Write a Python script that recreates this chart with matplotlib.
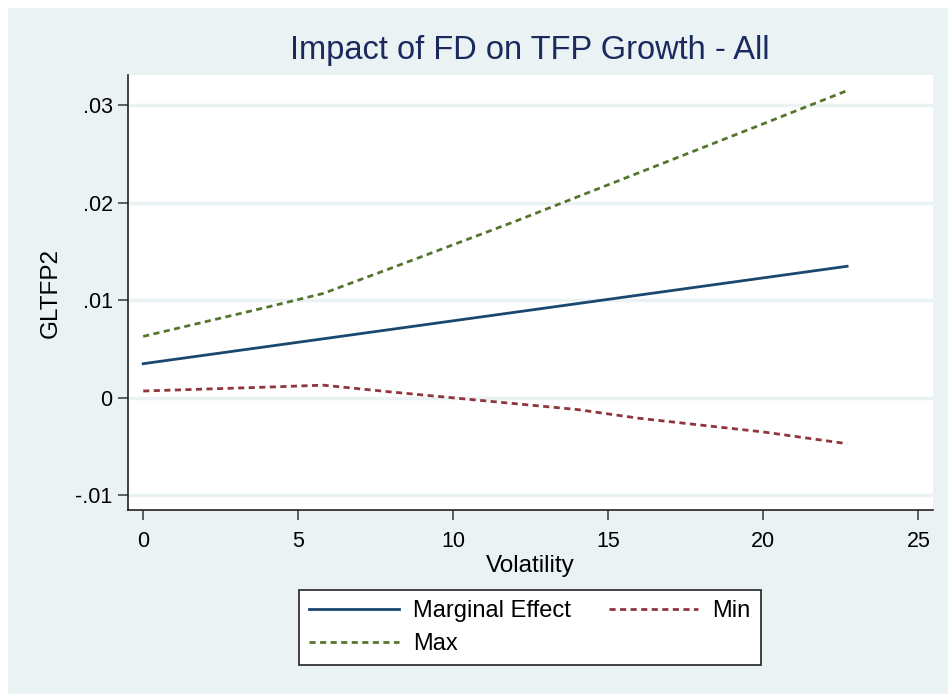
import matplotlib.pyplot as plt
from matplotlib.patches import Rectangle

plt.rcParams['font.family'] = ['Liberation Sans', 'DejaVu Sans']

# values
volatility = [0, 2, 4, 5.8, 8, 10, 12, 14, 16, 18, 20, 22.7]
marginal = [0.0035, 0.00438, 0.00526, 0.00605, 0.00702, 0.0079,
            0.00878, 0.00966, 0.01054, 0.01142, 0.0123, 0.01349]
upper = [0.0063, 0.0078, 0.0093, 0.0107, 0.0133, 0.0157,
         0.0181, 0.0206, 0.0231, 0.0256, 0.0281, 0.0315]
lower = [0.0007, 0.0009, 0.0011, 0.0013, 0.0006, 0.0000,
         -0.0006, -0.0012, -0.0021, -0.0028, -0.0035, -0.0047]
yticks = [-0.01, 0, 0.01, 0.02, 0.03]
ytick_labels = ['-.01', '0', '.01', '.02', '.03']
xticks = [0, 5, 10, 15, 20, 25]

bg = '#eaf2f3'
W, H = 948, 694
fig = plt.figure(figsize=(9.48, 6.94), dpi=100, facecolor='white')
fig.patches.append(Rectangle((8 / W, 0), 1 - 8 / W, 1 - 8 / H, transform=fig.transFigure,
                             facecolor=bg, edgecolor='none', zorder=-10))

ax = fig.add_axes([128 / W, 1 - 510 / H, (933 - 128) / W, (510 - 75) / H])
ax.set_facecolor('white')

ax.plot(volatility, marginal, color='#1a476f', lw=2, label='Marginal Effect')
ax.plot(volatility, lower, color='#90353b', lw=2, ls=(0, (2.2, 1.6)), label='Min')
ax.plot(volatility, upper, color='#55752f', lw=2, ls=(0, (2.2, 1.6)), label='Max')

ax.set_xlim(-0.49, 25.47)
ax.set_ylim(-0.0115, 0.0331)
ax.set_yticks(yticks)
ax.set_yticklabels(ytick_labels)
ax.set_xticks(xticks)
ax.grid(axis='y', color=bg, lw=2.5)
ax.set_axisbelow(True)
for s in ['top', 'right']:
    ax.spines[s].set_visible(False)
for s in ['left', 'bottom']:
    ax.spines[s].set_color('#222222')
    ax.spines[s].set_linewidth(1.2)
ax.tick_params(axis='both', length=7, width=1.2, color='#444444', labelsize=15.5)
ax.tick_params(axis='x', pad=8)
ax.tick_params(axis='y', pad=4)

ax.set_xlabel('Volatility', fontsize=17.5, labelpad=2)
ax.set_ylabel('GLTFP2', fontsize=17.5, labelpad=10)
fig.text(530 / W, 1 - 50 / H, 'Impact of FD on TFP Growth - All', fontsize=23.5,
         color='#1a2a5e', ha='center', va='center')

handles, labels = ax.get_legend_handles_labels()
order = [0, 2, 1]
leg = fig.legend([handles[i] for i in order], [labels[i] for i in order],
                 ncol=2, loc='center', bbox_to_anchor=(530 / W, 1 - 627.5 / H),
                 fontsize=17, frameon=True, fancybox=False, framealpha=1,
                 handlelength=3.8, columnspacing=1.6, handletextpad=0.6,
                 borderpad=0.45, labelspacing=0.45)
leg.get_frame().set_edgecolor('#222222')
leg.get_frame().set_linewidth(1.2)

fig.savefig('out.png', dpi=100, facecolor=fig.get_facecolor())
